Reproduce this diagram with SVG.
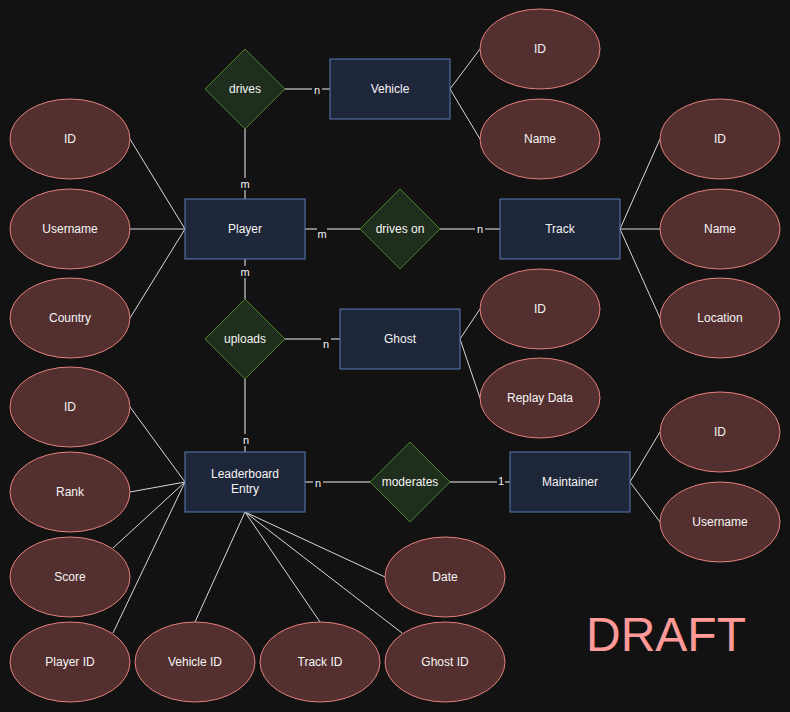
<svg xmlns="http://www.w3.org/2000/svg" width="790" height="712" viewBox="0 0 790 712">
<style>
.bg{fill:#121212}
.attr ellipse{fill:#532f2f;stroke:#e5807c;stroke-width:1}
.ent rect{fill:#1e2639;stroke:#5b7db8;stroke-width:1}
.rel polygon{fill:#1f2e1d;stroke:#4f7d2e;stroke-width:1}
text{font-family:"Liberation Sans",Arial,sans-serif;font-size:12px;fill:#f5f5f5;text-anchor:middle;dominant-baseline:central}
.edges line{stroke:#f0f0f0;stroke-width:1}
.edges line.a{stroke:#d8d8d8}
.lbl rect{fill:#121212}
.lbl text{font-size:11px}
.draft{font-size:48px;fill:#ff9a98;text-anchor:start;dominant-baseline:auto}
</style>
<rect class="bg" width="790" height="712"/>
<g id="connectors" class="edges">
  <line x1="245" y1="129" x2="245" y2="199"/>
  <line x1="285" y1="89" x2="330" y2="89"/>
  <line x1="305" y1="229" x2="360" y2="229"/>
  <line x1="440" y1="229" x2="500" y2="229"/>
  <line x1="245" y1="259" x2="245" y2="299"/>
  <line x1="285" y1="339" x2="340" y2="339"/>
  <line x1="245" y1="379" x2="245" y2="452"/>
  <line x1="305" y1="482" x2="370" y2="482"/>
  <line x1="450" y1="482" x2="510" y2="482"/>
  <line class="a" x1="450" y1="89" x2="480" y2="49"/>
  <line class="a" x1="450" y1="89" x2="480" y2="139"/>
  <line class="a" x1="185" y1="229" x2="130" y2="139"/>
  <line class="a" x1="185" y1="229" x2="130" y2="229"/>
  <line class="a" x1="185" y1="229" x2="130" y2="318"/>
  <line class="a" x1="620" y1="229" x2="660" y2="139"/>
  <line class="a" x1="620" y1="229" x2="660" y2="229"/>
  <line class="a" x1="620" y1="229" x2="660" y2="318"/>
  <line class="a" x1="460" y1="339" x2="480" y2="309"/>
  <line class="a" x1="460" y1="339" x2="480" y2="398"/>
  <line class="a" x1="630" y1="482" x2="660" y2="432"/>
  <line class="a" x1="630" y1="482" x2="660" y2="522"/>
  <line class="a" x1="185" y1="482" x2="130" y2="407"/>
  <line class="a" x1="185" y1="482" x2="130" y2="492"/>
  <line class="a" x1="185" y1="482" x2="113" y2="548"/>
  <line class="a" x1="185" y1="482" x2="113" y2="633"/>
  <line class="a" x1="245" y1="512" x2="195" y2="622"/>
  <line class="a" x1="245" y1="512" x2="320" y2="622"/>
  <line class="a" x1="245" y1="512" x2="402" y2="633"/>
  <line class="a" x1="245" y1="512" x2="385" y2="577"/>
  <g class="lbl">
    <rect x="240" y="178" width="10" height="12"/><text x="245" y="184">m</text>
    <rect x="312" y="84" width="10" height="12"/><text x="317" y="90">n</text>
    <rect x="317" y="228" width="10" height="12"/><text x="322" y="234">m</text>
    <rect x="475" y="223" width="10" height="12"/><text x="480" y="229">n</text>
    <rect x="240" y="266" width="10" height="12"/><text x="245" y="272">m</text>
    <rect x="321" y="338" width="10" height="12"/><text x="326" y="344">n</text>
    <rect x="241" y="434" width="10" height="12"/><text x="246" y="440">n</text>
    <rect x="313" y="477" width="10" height="12"/><text x="318" y="483">n</text>
    <rect x="497" y="475" width="8" height="12"/><text x="501" y="481">1</text>
  </g>
</g>
<g id="rel-drives" class="rel"><polygon points="245,49 285,89 245,129 205,89"/><text x="245" y="89">drives</text></g>
<g id="rel-drives-on" class="rel"><polygon points="400,189 440,229 400,269 360,229"/><text x="400" y="229">drives on</text></g>
<g id="rel-uploads" class="rel"><polygon points="245,299 285,339 245,379 205,339"/><text x="245" y="339">uploads</text></g>
<g id="rel-moderates" class="rel"><polygon points="410,442 450,482 410,522 370,482"/><text x="410" y="482">moderates</text></g>
<g id="ent-vehicle" class="ent"><rect x="330" y="59" width="120" height="60"/><text x="390" y="89">Vehicle</text></g>
<g id="ent-player" class="ent"><rect x="185" y="199" width="120" height="60"/><text x="245" y="229">Player</text></g>
<g id="ent-track" class="ent"><rect x="500" y="199" width="120" height="60"/><text x="560" y="229">Track</text></g>
<g id="ent-ghost" class="ent"><rect x="340" y="309" width="120" height="60"/><text x="400" y="339">Ghost</text></g>
<g id="ent-leaderboard" class="ent"><rect x="185" y="452" width="120" height="60"/><text x="245" y="474">Leaderboard</text><text x="245" y="489">Entry</text></g>
<g id="ent-maintainer" class="ent"><rect x="510" y="452" width="120" height="60"/><text x="570" y="482">Maintainer</text></g>
<g id="attr-vehicle-id" class="attr"><ellipse cx="540" cy="49" rx="60" ry="40"/><text x="540" y="49">ID</text></g>
<g id="attr-vehicle-name" class="attr"><ellipse cx="540" cy="139" rx="60" ry="40"/><text x="540" y="139">Name</text></g>
<g id="attr-player-id" class="attr"><ellipse cx="70" cy="139" rx="60" ry="40"/><text x="70" y="139">ID</text></g>
<g id="attr-player-username" class="attr"><ellipse cx="70" cy="229" rx="60" ry="40"/><text x="70" y="229">Username</text></g>
<g id="attr-player-country" class="attr"><ellipse cx="70" cy="318" rx="60" ry="40"/><text x="70" y="318">Country</text></g>
<g id="attr-track-id" class="attr"><ellipse cx="720" cy="139" rx="60" ry="40"/><text x="720" y="139">ID</text></g>
<g id="attr-track-name" class="attr"><ellipse cx="720" cy="229" rx="60" ry="40"/><text x="720" y="229">Name</text></g>
<g id="attr-track-location" class="attr"><ellipse cx="720" cy="318" rx="60" ry="40"/><text x="720" y="318">Location</text></g>
<g id="attr-ghost-id" class="attr"><ellipse cx="540" cy="309" rx="60" ry="40"/><text x="540" y="309">ID</text></g>
<g id="attr-ghost-replay" class="attr"><ellipse cx="540" cy="398" rx="60" ry="40"/><text x="540" y="398">Replay Data</text></g>
<g id="attr-maint-id" class="attr"><ellipse cx="720" cy="432" rx="60" ry="40"/><text x="720" y="432">ID</text></g>
<g id="attr-maint-username" class="attr"><ellipse cx="720" cy="522" rx="60" ry="40"/><text x="720" y="522">Username</text></g>
<g id="attr-lb-id" class="attr"><ellipse cx="70" cy="407" rx="60" ry="40"/><text x="70" y="407">ID</text></g>
<g id="attr-lb-rank" class="attr"><ellipse cx="70" cy="492" rx="60" ry="40"/><text x="70" y="492">Rank</text></g>
<g id="attr-lb-score" class="attr"><ellipse cx="70" cy="577" rx="60" ry="40"/><text x="70" y="577">Score</text></g>
<g id="attr-lb-playerid" class="attr"><ellipse cx="70" cy="662" rx="60" ry="40"/><text x="70" y="662">Player ID</text></g>
<g id="attr-lb-vehicleid" class="attr"><ellipse cx="195" cy="662" rx="60" ry="40"/><text x="195" y="662">Vehicle ID</text></g>
<g id="attr-lb-trackid" class="attr"><ellipse cx="320" cy="662" rx="60" ry="40"/><text x="320" y="662">Track ID</text></g>
<g id="attr-lb-ghostid" class="attr"><ellipse cx="445" cy="662" rx="60" ry="40"/><text x="445" y="662">Ghost ID</text></g>
<g id="attr-lb-date" class="attr"><ellipse cx="445" cy="577" rx="60" ry="40"/><text x="445" y="577">Date</text></g>
<text class="draft" x="586" y="651">DRAFT</text>
</svg>
